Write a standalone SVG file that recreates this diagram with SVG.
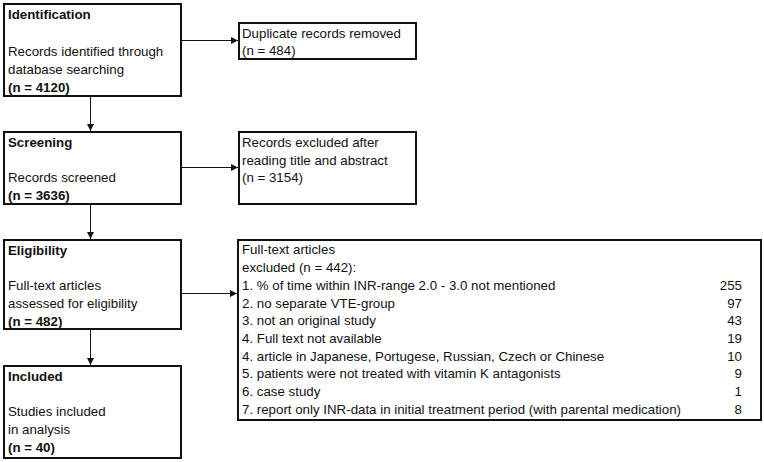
<svg xmlns="http://www.w3.org/2000/svg" width="764" height="462" viewBox="0 0 764 462">
<defs>
<style>
text{font-family:"Liberation Sans",Arial,sans-serif;font-size:13.3px;fill:#111}
.b{font-weight:bold}
.box{fill:#fff;stroke:#111;stroke-width:2}
.ln{stroke:#111;stroke-width:1;fill:none}
.num{text-anchor:end}
</style>
<marker id="ah" viewBox="0 0 10 10" refX="10" refY="5" markerWidth="7" markerHeight="7" markerUnits="userSpaceOnUse" orient="auto">
<path d="M0,0 L10,5 L0,10 z" fill="#111"/>
</marker>
</defs>
<rect width="764" height="462" fill="#fff"/>
<g id="connectors">
<line class="ln" x1="181" y1="40.5" x2="238" y2="40.5" marker-end="url(#ah)"/>
<line class="ln" x1="90.5" y1="96" x2="90.5" y2="131" marker-end="url(#ah)"/>
<line class="ln" x1="181" y1="167.5" x2="238" y2="167.5" marker-end="url(#ah)"/>
<line class="ln" x1="90.5" y1="204" x2="90.5" y2="239" marker-end="url(#ah)"/>
<line class="ln" x1="181" y1="293.5" x2="237" y2="293.5" marker-end="url(#ah)"/>
<line class="ln" x1="90.5" y1="329" x2="90.5" y2="365" marker-end="url(#ah)"/>
</g>
<g id="identification">
<rect class="box" x="4" y="4" width="177" height="92"/>
<text class="b" x="8" y="19">Identification</text>
<text x="8" y="56">Records identified through</text>
<text x="8" y="74">database searching</text>
<text class="b" x="8" y="92">(n = 4120)</text>
</g>
<g id="duplicates">
<rect class="box" x="239" y="23" width="177" height="36"/>
<text x="242" y="38">Duplicate records removed</text>
<text x="242" y="55">(n = 484)</text>
</g>
<g id="screening">
<rect class="box" x="4" y="132" width="177" height="72"/>
<text class="b" x="8" y="147">Screening</text>
<text x="8" y="182">Records screened</text>
<text class="b" x="8" y="200">(n = 3636)</text>
</g>
<g id="excluded-abstract">
<rect class="box" x="239" y="132" width="177" height="72"/>
<text x="242" y="147">Records excluded after</text>
<text x="242" y="165">reading title and abstract</text>
<text x="242" y="182">(n = 3154)</text>
</g>
<g id="eligibility">
<rect class="box" x="4" y="240" width="177" height="89"/>
<text class="b" x="8" y="255">Eligibility</text>
<text x="8" y="290">Full-text articles</text>
<text x="8" y="308">assessed for eligibility</text>
<text class="b" x="8" y="326">(n = 482)</text>
</g>
<g id="excluded-fulltext">
<rect class="box" x="238" y="240" width="523" height="180"/>
<text x="242" y="254">Full-text articles</text>
<text x="242" y="272">excluded (n = 442):</text>
<text x="242" y="290">1. % of time within INR-range 2.0 - 3.0 not mentioned</text>
<text x="242" y="307.5">2. no separate VTE-group</text>
<text x="242" y="325">3. not an original study</text>
<text x="242" y="343">4. Full text not available</text>
<text x="242" y="360.5">4. article in Japanese, Portugese, Russian, Czech or Chinese</text>
<text x="242" y="378">5. patients were not treated with vitamin K antagonists</text>
<text x="242" y="396">6. case study</text>
<text x="242" y="413.5">7. report only INR-data in initial treatment period (with parental medication)</text>
<text class="num" x="742" y="290">255</text>
<text class="num" x="742" y="307.5">97</text>
<text class="num" x="742" y="325">43</text>
<text class="num" x="742" y="343">19</text>
<text class="num" x="742" y="360.5">10</text>
<text class="num" x="742" y="378">9</text>
<text class="num" x="742" y="396">1</text>
<text class="num" x="742" y="413.5">8</text>
</g>
<g id="included">
<rect class="box" x="4" y="366" width="177" height="92"/>
<text class="b" x="8" y="381">Included</text>
<text x="8" y="416">Studies included</text>
<text x="8" y="434">in analysis</text>
<text class="b" x="8" y="452">(n = 40)</text>
</g>
</svg>
